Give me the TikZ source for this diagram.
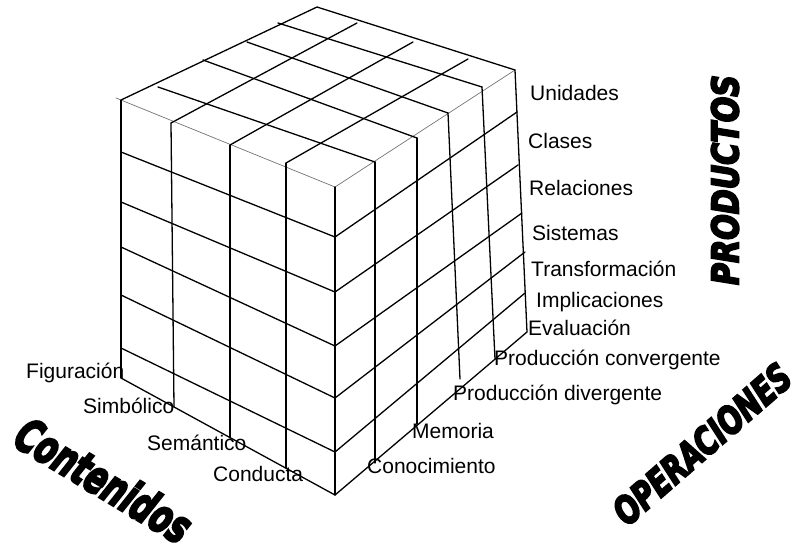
\documentclass[tikz,border=0pt]{standalone}
\usepackage{fontspec}
\usepackage{graphicx}
\setmainfont{Liberation Sans}
\newfontfamily\heavyfont[FakeBold=5.5]{DejaVu Sans}
\tikzset{
  cubeline/.style={line width=1.3pt, black, line cap=round},
  thinedge/.style={line width=0.7pt, black!55, line cap=round},
  lab/.style={anchor=base west, inner sep=0pt, font=\fontsize{21}{25}\selectfont},
  big/.style={inner sep=0pt},
}
\begin{document}
\begin{tikzpicture}[x=1pt,y=-1pt]
\useasboundingbox (0,0) rectangle (796,547);
% ---------- top face ----------
\draw[cubeline] (121,100) -- (317,7) -- (515,70);
\draw[thinedge] (116,98) -- (335,187) -- (515,70);
% lines parallel to front-left edge
\draw[cubeline] (158,87) -- (375,162);
\draw[cubeline] (203,60) -- (417,138);
\draw[cubeline] (247,42) -- (448,113);
\draw[cubeline] (278,23) -- (482,87);
% lines parallel to front-right edge
\draw[cubeline] (171,123) -- (357,23);
\draw[cubeline] (230,145) -- (413,42);
\draw[cubeline] (286,163) -- (468,59);
% ---------- left face ----------
\draw[cubeline] (121,100) -- (121,378);
\draw[cubeline] (171,123) -- (174,407);
\draw[cubeline] (230,145) -- (230,438);
\draw[cubeline] (286,163) -- (286,468);
\draw[cubeline] (335,187) -- (335,495);
\draw[cubeline] (121,152) -- (335,237);
\draw[cubeline] (121,202) -- (335,292);
\draw[cubeline] (121,247) -- (335,346);
\draw[cubeline] (121,295) -- (335,398);
\draw[cubeline] (121,348) -- (335,452);
\draw[cubeline] (121,378) -- (335,495);
% ---------- right face ----------
\draw[cubeline] (375,162) -- (375,463);
\draw[cubeline] (417,138) -- (417,424);
\draw[cubeline] (448,113) -- (460,379);
\draw[cubeline] (482,87) -- (495,359);
\draw[cubeline] (515,70) -- (527,332);
\draw[cubeline] (335,237) -- (517,112);
\draw[cubeline] (335,292) -- (518,165);
\draw[cubeline] (335,346) -- (522,213);
\draw[cubeline] (335,398) -- (525,252);
\draw[cubeline] (335,452) -- (525,293);
\draw[cubeline] (335,495) -- (527,332);
% ---------- labels ----------
\node[lab] (uni) at (530,100) {Unidades};
\node[lab] (cla) at (528,148) {Clases};
\node[lab] (rel) at (529,195) {Relaciones};
\node[lab] (sis) at (532,240) {Sistemas};
\node[lab] (tra) at (531,276) {Transformación};
\node[lab] (imp) at (536,307) {Implicaciones};
\node[lab] (eva) at (528,335) {Evaluación};
\node[lab] (pcon) at (494,365) {Producción convergente};
\node[lab] (pdiv) at (453,400) {Producción divergente};
\node[lab] (mem) at (412,438) {Memoria};
\node[lab] (con) at (367,473) {Conocimiento};
\node[lab] (fig) at (26,378) {Figuración};
\node[lab] (sim) at (83,413) {Simbólico};
\node[lab] (sem) at (147,450) {Semántico};
\node[lab] (cond) at (213,481) {Conducta};
% ---------- axis titles ----------
\node[big, rotate=90] (prod) at (725,180) {\resizebox{210pt}{27pt}{\heavyfont\bfseries\itshape PRODUCTOS}};
\node[big, rotate=41] (oper) at (702,444) {\resizebox{222pt}{28pt}{\heavyfont\bfseries\itshape OPERACIONES}};
\node[big, rotate=-31] (cont) at (104,480) {\resizebox{196pt}{35pt}{\heavyfont\bfseries\itshape Contenidos}};
\end{tikzpicture}
\end{document}
